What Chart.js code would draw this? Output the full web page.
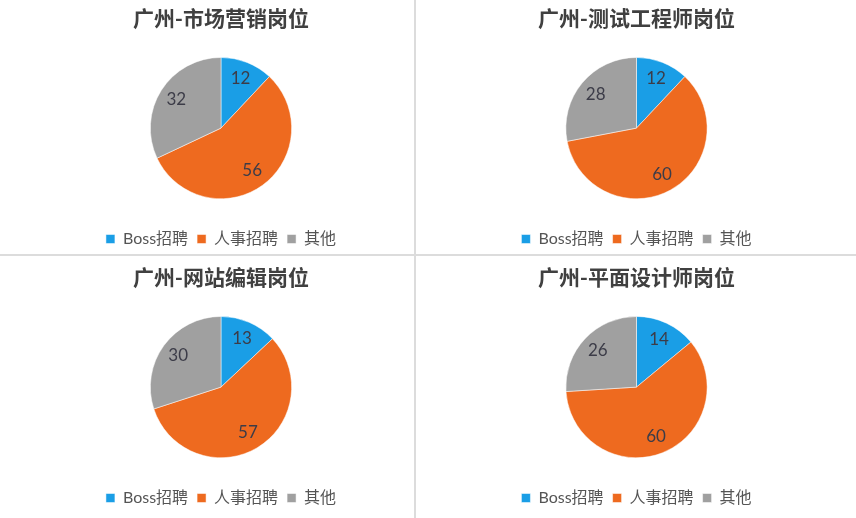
<!DOCTYPE html>
<html>
<head>
<meta charset="utf-8">
<script src="https://cdn.jsdelivr.net/npm/chart.js@4.4.0/dist/chart.umd.min.js"></script>
<style>
  html, body { margin: 0; padding: 0; background: #fff; }
  body { width: 856px; height: 518px; position: relative; overflow: hidden; }
  .cell { position: absolute; height: 257px; }
  .vline { position: absolute; left: 414px; top: 0; width: 2px; height: 518px; background: #dcdcdc; }
  .hline { position: absolute; left: 0; top: 254px; width: 856px; height: 2px; background: #dcdcdc; }
</style>
</head>
<body>
<div class="vline"></div>
<div class="hline"></div>
<div class="cell" style="left:30px;top:0;width:382px"><canvas id="c1"></canvas></div>
<div class="cell" style="left:418px;top:0;width:437px"><canvas id="c2"></canvas></div>
<div class="cell" style="left:30px;top:259px;width:382px"><canvas id="c3"></canvas></div>
<div class="cell" style="left:418px;top:259px;width:437px"><canvas id="c4"></canvas></div>
<script>
// Chart data
const categories = ['Boss招聘', '人事招聘', '其他'];
const titles = ['广州-市场营销岗位', '广州-测试工程师岗位', '广州-网站编辑岗位', '广州-平面设计师岗位'];
const marketingValues = [12, 56, 32];
const testerValues = [12, 60, 28];
const editorValues = [13, 57, 30];
const designerValues = [14, 60, 26];
const seriesList = [marketingValues, testerValues, editorValues, designerValues];

const colors = ['#1a9ee6', '#ee6a1f', '#a0a0a0'];
const textColor = '#404040';
const latinFont = 'Lato, "Noto Sans CJK SC", sans-serif';

// Draw the value inside each slice
const sliceLabels = {
  id: 'sliceLabels',
  afterDatasetsDraw(chart) {
    const ctx = chart.ctx;
    const meta = chart.getDatasetMeta(0);
    const values = chart.data.datasets[0].data;
    ctx.save();
    ctx.font = '17px ' + latinFont;
    ctx.fillStyle = '#3c3c48';
    ctx.textAlign = 'center';
    ctx.textBaseline = 'middle';
    meta.data.forEach((arc, i) => {
      const p = arc.getProps(['x', 'y', 'startAngle', 'endAngle', 'outerRadius'], true);
      const mid = (p.startAngle + p.endAngle) / 2;
      const r = p.outerRadius * 0.75;
      ctx.fillText(values[i], p.x + Math.cos(mid) * r, p.y + Math.sin(mid) * r);
    });
    ctx.restore();
  }
};

function makePie(id, title, values) {
  const ctx = document.getElementById(id).getContext('2d');
  return new Chart(ctx, {
    type: 'pie',
    data: {
      labels: categories,
      datasets: [{
        data: values,
        backgroundColor: colors,
        borderColor: '#ffffff',
        borderWidth: 0.5
      }]
    },
    options: {
      responsive: true,
      maintainAspectRatio: false,
      animation: false,
      layout: { padding: 0 },
      plugins: {
        title: {
          display: true,
          text: title,
          color: textColor,
          font: { family: '"Noto Sans CJK SC", sans-serif', size: 21, weight: 'bold' },
          padding: { top: 5, bottom: 27 }
        },
        legend: {
          position: 'bottom',
          // empty legend title only used as a spacer above the items
          title: { display: true, text: ' ', font: { size: 10 }, padding: { top: 11, bottom: 0 } },
          labels: {
            color: '#555',
            font: { family: latinFont, size: 16 },
            boxWidth: 9,
            boxHeight: 9,
            padding: 9
          }
        },
        tooltip: { enabled: false }
      }
    },
    plugins: [sliceLabels]
  });
}

document.addEventListener('DOMContentLoaded', () => {
  seriesList.forEach((values, i) => makePie('c' + (i + 1), titles[i], values));
});
</script>
</body>
</html>
